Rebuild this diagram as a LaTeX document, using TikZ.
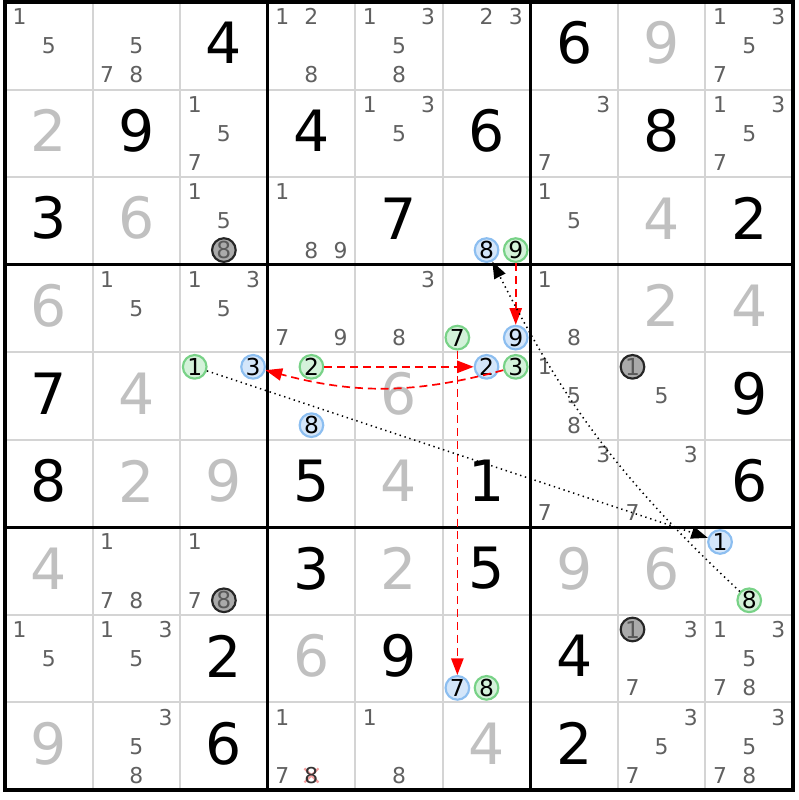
\documentclass[tikz,border=0pt]{standalone}
\usepackage{fontspec}
\setmainfont{DejaVu Sans}
\usetikzlibrary{arrows.meta}
\definecolor{candgray}{RGB}{96,96,96}
\definecolor{solvedgray}{RGB}{192,192,192}
\definecolor{gridgray}{RGB}{212,212,212}
\definecolor{onfill}{RGB}{212,242,218}
\definecolor{ondraw}{RGB}{120,210,135}
\definecolor{offfill}{RGB}{212,230,250}
\definecolor{offdraw}{RGB}{140,190,240}
\definecolor{elimfill}{RGB}{170,170,170}
\definecolor{crossred}{RGB}{245,160,160}
\def\subStep{0.3333}
\newcommand{\bigDigits}{\fontsize{18.5}{20}\selectfont}
\newcommand{\smallDigits}{\fontsize{7.1}{8}\selectfont}
\newcommand{\ringDigits}{\fontsize{7.6}{8}\selectfont}
\tikzset{
	cellline/.style={draw=gridgray, line width=0.65pt},
	boxline/.style={draw=black, line width=1.1pt},
	given/.style={font=\bigDigits, text=black, inner sep=0pt},
	solved/.style={font=\bigDigits, text=solvedgray, inner sep=0pt},
	cand/.style={font=\smallDigits, text=candgray, inner sep=0pt},
	ring/.style={circle, inner sep=0pt, minimum size=0.27cm, line width=0.7pt, font=\ringDigits, text=black},
	onring/.style={ring, draw=ondraw, fill=onfill},
	offring/.style={ring, draw=offdraw, fill=offfill},
	elimring/.style={ring, draw=black!85, fill=elimfill, text=black!65},
	strong/.style={draw=red, line width=0.55pt, dash pattern=on 2.6pt off 1.6pt, -{Triangle[length=5.4pt,width=4pt]}},
	weak/.style={draw=black, line width=0.5pt, dash pattern=on 0.45pt off 1.2pt, -{Triangle[length=5.4pt,width=4pt]}},
	elimcross/.style={draw=crossred, line width=0.7pt}
}
%row, column, digit, style
\newcommand{\cellDigit}[4]{
	\node[#4] (r#1c#2) at ({#2-0.5},{9.53-#1}) {#3};
}
%row, column, list of pencil marks
\newcommand{\cellCands}[3]{
	\foreach \d in {#3}
		\node[cand] (r#1c#2n\d) at ({#2-0.5+(mod(\d-1,3)-1)*\subStep},{9.5-#1-(floor((\d-1)/3)-1)*\subStep}) {\d};
}
%row, column, digit, ring style
\newcommand{\ringCand}[4]{
	\node[#4] (r#1c#2n#3) at ({#2-0.5+(mod(#3-1,3)-1)*\subStep},{9.5-#1-(floor((#3-1)/3)-1)*\subStep}) {#3};
}

\begin{document}
\begin{tikzpicture}[x=1cm, y=1cm]
	\useasboundingbox (-0.057,-0.114) rectangle (9.063,9.023);

	%grid, thin cell lines first then the boxes
	\foreach \i in {1, ..., 8}
		\draw[cellline] (\i,0) -- (\i,9) (0,\i) -- (9,\i);
	\foreach \i in {3, 6}
		\draw[boxline] (\i,0) -- (\i,9) (0,\i) -- (9,\i);
	\draw[boxline] (0,0) rectangle (9,9);

	%givens in black
	\foreach \r/\c/\v in {1/3/4, 1/7/6, 2/2/9, 2/4/4, 2/6/6, 2/8/8, 3/1/3, 3/5/7, 3/9/2, 5/1/7, 5/9/9, 6/1/8, 6/4/5, 6/6/1, 6/9/6, 7/4/3, 7/6/5, 8/3/2, 8/5/9, 8/7/4, 9/3/6, 9/7/2}
		\cellDigit{\r}{\c}{\v}{given};
	%solved cells in light gray
	\foreach \r/\c/\v in {1/8/9, 2/1/2, 3/2/6, 3/8/4, 4/1/6, 4/8/2, 4/9/4, 5/2/4, 5/5/6, 6/2/2, 6/3/9, 6/5/4, 7/1/4, 7/5/2, 7/7/9, 7/8/6, 8/4/6, 9/1/9, 9/6/4}
		\cellDigit{\r}{\c}{\v}{solved};

	%the crossed out 8 goes under its digit
	\draw[elimcross] (3.5,0.1667) +(-0.08,-0.08) -- +(0.08,0.08) +(-0.08,0.08) -- +(0.08,-0.08);

	%pencil marks, row by row
	\cellCands{1}{1}{1,5}
	\cellCands{1}{2}{5,7,8}
	\cellCands{1}{4}{1,2,8}
	\cellCands{1}{5}{1,3,5,8}
	\cellCands{1}{6}{2,3}
	\cellCands{1}{9}{1,3,5,7}
	\cellCands{2}{3}{1,5,7}
	\cellCands{2}{5}{1,3,5}
	\cellCands{2}{7}{3,7}
	\cellCands{2}{9}{1,3,5,7}
	\cellCands{3}{3}{1,5}
	\cellCands{3}{4}{1,8,9}
	\cellCands{3}{7}{1,5}
	\cellCands{4}{2}{1,5}
	\cellCands{4}{3}{1,3,5}
	\cellCands{4}{4}{7,9}
	\cellCands{4}{5}{3,8}
	\cellCands{4}{7}{1,8}
	\cellCands{5}{7}{1,5,8}
	\cellCands{5}{8}{5}
	\cellCands{6}{7}{3,7}
	\cellCands{6}{8}{3,7}
	\cellCands{7}{2}{1,7,8}
	\cellCands{7}{3}{1,7}
	\cellCands{8}{1}{1,5}
	\cellCands{8}{2}{1,3,5}
	\cellCands{8}{8}{3,7}
	\cellCands{8}{9}{1,3,5,7,8}
	\cellCands{9}{2}{3,5,8}
	\cellCands{9}{4}{1,7}
	\node[cand, text=black!80] (r9c4n8) at (3.5,0.1667) {8};
	\cellCands{9}{5}{1,8}
	\cellCands{9}{8}{3,5,7}
	\cellCands{9}{9}{3,5,7,8}

	%chain marks, green = on, blue = off, gray = eliminated
	\ringCand{3}{6}{8}{offring}
	\ringCand{3}{6}{9}{onring}
	\ringCand{4}{6}{7}{onring}
	\ringCand{4}{6}{9}{offring}
	\ringCand{5}{3}{1}{onring}
	\ringCand{5}{3}{3}{offring}
	\ringCand{5}{4}{2}{onring}
	\ringCand{5}{4}{8}{offring}
	\ringCand{5}{6}{2}{offring}
	\ringCand{5}{6}{3}{onring}
	\ringCand{7}{9}{1}{offring}
	\ringCand{7}{9}{8}{onring}
	\ringCand{8}{6}{7}{offring}
	\ringCand{8}{6}{8}{onring}
	\ringCand{3}{3}{8}{elimring}
	\ringCand{5}{8}{1}{elimring}
	\ringCand{7}{3}{8}{elimring}
	\ringCand{8}{8}{1}{elimring}

	%strong links
	\draw[strong] (r3c6n9) -- (r4c6n9);
	\draw[strong] (r5c4n2) -- (r5c6n2);
	\draw[strong] (r5c6n3) to[bend left=15] (r5c3n3);
	\draw[strong] (r4c6n7) -- (r8c6n7);
	%weak links
	\draw[weak] (r5c3n1) -- (r7c9n1);
	\draw[weak] (r7c9n8) to[bend left=10] (r3c6n8);
\end{tikzpicture}
\end{document}
